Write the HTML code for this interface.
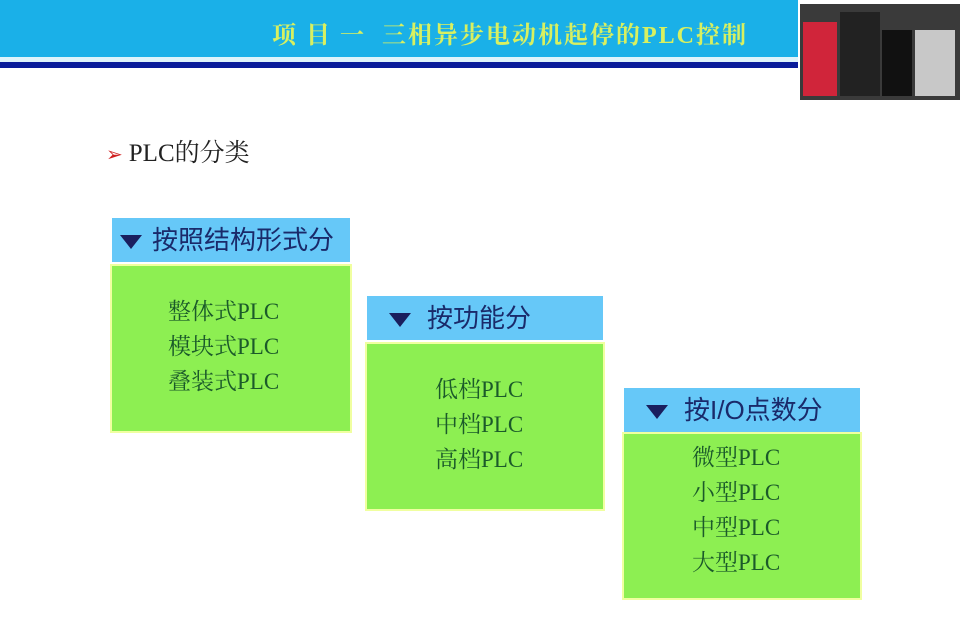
<!DOCTYPE html>
<html><head><meta charset="utf-8"><style>
body{margin:0;width:960px;height:626px;background:#fff;position:relative;overflow:hidden;font-family:"Liberation Serif","Noto Serif CJK SC",serif}
.a{position:absolute}
.hd{background:#66c8f8;color:#1a2a6a;font-family:"Liberation Sans","Noto Sans CJK SC",sans-serif;font-size:26px;line-height:44px;white-space:nowrap}
.hd .t{display:inline-block;width:0;height:0;border-left:11px solid transparent;border-right:11px solid transparent;border-top:14px solid #1a1f5e;vertical-align:middle;margin:0 10px 0 8px}
.gb{background:#8def52;border:2px solid #f0ffa0;box-sizing:border-box;color:#1b5a2a;font-size:23px;line-height:35px}
</style></head><body>
<div class="a" style="left:0;top:0;width:798px;height:57px;background:#1ab0e8"></div>
<div class="a" style="left:0;top:57px;width:798px;height:5px;background:#dff4fb"></div>
<div class="a" style="left:0;top:62px;width:798px;height:6px;background:#0a1d9a"></div>
<div class="a" style="left:272px;top:15px;font-size:24px;color:#d8f060;font-weight:bold;letter-spacing:2px;white-space:nowrap">项 目 一&nbsp; 三相异步电动机起停的PLC控制</div>
<div class="a" style="left:800px;top:4px;width:160px;height:96px;background:#3a3a3a"></div>
<div class="a" style="left:803px;top:22px;width:34px;height:74px;background:#d0253a"></div>
<div class="a" style="left:840px;top:12px;width:40px;height:84px;background:#222"></div>
<div class="a" style="left:882px;top:30px;width:30px;height:66px;background:#111"></div>
<div class="a" style="left:915px;top:30px;width:40px;height:66px;background:#c8c8c8"></div>
<div class="a" style="left:106px;top:133px;font-size:25px;color:#222;white-space:nowrap"><span style="color:#d02020;font-size:20px;margin-right:6px">➢</span>PLC的分类</div>

<div class="a hd" style="left:112px;top:218px;width:238px;height:44px"><span class="t"></span>按照结构形式分</div>
<div class="a gb" style="left:110px;top:264px;width:242px;height:169px;padding:28px 0 0 56px">整体式PLC<br>模块式PLC<br>叠装式PLC</div>

<div class="a hd" style="left:367px;top:296px;width:236px;height:44px"><span class="t" style="margin-left:22px;margin-right:16px"></span>按功能分</div>
<div class="a gb" style="left:365px;top:342px;width:240px;height:169px;padding:28px 0 0 68px">低档PLC<br>中档PLC<br>高档PLC</div>

<div class="a hd" style="left:624px;top:388px;width:236px;height:44px"><span class="t" style="margin-left:22px;margin-right:16px"></span>按I/O点数分</div>
<div class="a gb" style="left:622px;top:432px;width:240px;height:168px;padding:6px 0 0 68px">微型PLC<br>小型PLC<br>中型PLC<br>大型PLC</div>
</body></html>
